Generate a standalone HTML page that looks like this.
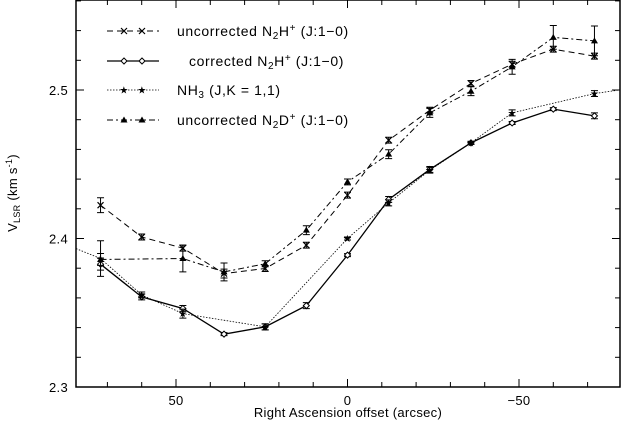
<!DOCTYPE html>
<html><head><meta charset="utf-8"><style>
body{margin:0;background:#fff}
svg text{font-family:"Liberation Sans",sans-serif;font-size:13px;fill:#000;letter-spacing:0.3px}
</style></head><body>
<svg id="c" width="621" height="421" xmlns="http://www.w3.org/2000/svg"></svg>
<script>
const xs=[72,60,48,36,24,12,0,-12,-24,-36,-48,-60,-72];
const uncN2H=[2.4224,2.401,2.3935,2.3764,2.3798,2.3955,2.4292,2.4662,2.4864,2.5044,2.5174,2.5275,2.5228];
const uncN2HErr=[0.005,0.002,0.002,0.003,0.002,0.002,0.002,0.002,0.002,0.002,0.002,0.002,0.002];
const corN2H=[2.3827,2.3607,2.3529,2.3356,2.3405,2.3548,2.3888,2.4263,2.4465,2.4644,2.4778,2.4871,2.4826];
const corErr=[0.004,0.002,0.002,0.001,0.002,0.002,0.001,0.002,0.002,0.001,0.001,0.001,0.002];
const nh3X=[84,72,60,48,24,0,-12,-24,-36,-48,-72,-84];
const nh3=[2.3978,2.3865,2.362,2.3494,2.3405,2.400,2.424,2.446,2.4644,2.4846,2.4976,2.5016];
const nh3Err=[0,0.012,0.002,0.003,0.002,0.001,0.002,0.002,0.001,0.002,0.002,0];
const n2dX=[72,48,36,24,12,0,-12,-24,-36,-48,-60,-72];
const n2d=[2.3859,2.3865,2.3775,2.383,2.4056,2.4381,2.4568,2.4846,2.4992,2.5156,2.5354,2.5331];
const n2dErr=[0.004,0.009,0.006,0.002,0.003,0.002,0.003,0.003,0.003,0.005,0.008,0.01];
const yTicks=[2.3,2.4,2.5];
const xTicks=[50,0,-50];

const L=76,R=620,T=0,B=387;
const X=v=>176+(50-v)*3.43;
const Y=v=>387-(v-2.3)*1485;
const S=document.getElementById('c');
const NS='http://www.w3.org/2000/svg';
function mk(tag,attrs,parent){const e=document.createElementNS(NS,tag);for(const k in attrs)e.setAttribute(k,attrs[k]);(parent||S).appendChild(e);return e;}
const defs=mk('defs',{});const cp=mk('clipPath',{id:'clip'},defs);mk('rect',{x:L,y:T,width:R-L,height:B-T},cp);
const frame=mk('rect',{x:L,y:T,width:R-L,height:B-T,fill:'none',stroke:'#000','stroke-width':1.5});

for(let v=2.3;v<=2.561;v+=0.02){const y=Y(v);const maj=Math.abs((v*10)-Math.round(v*10))<0.01;const l=maj?8:5;
 mk('line',{x1:L,x2:L+l,y1:y,y2:y,stroke:'#000'});mk('line',{x1:R-l,x2:R,y1:y,y2:y,stroke:'#000'});}
for(let v=-70;v<=70;v+=10){const x=X(v);const l=(v%50===0)?8:5;
 mk('line',{x1:x,x2:x,y1:B,y2:B-l,stroke:'#000'});mk('line',{x1:x,x2:x,y1:T,y2:T+l,stroke:'#000'});}
yTicks.forEach(v=>{const t=mk('text',{x:L-8,y:Y(v)+5,'text-anchor':'end'});t.textContent=v.toFixed(1);
 });
xTicks.forEach(v=>{const t=mk('text',{x:X(v),y:B+18,'text-anchor':'middle'});t.textContent=(v<0?'\u2212'+(-v):v);
 });
const xl=mk('text',{x:348,y:417,'text-anchor':'middle'});xl.textContent='Right Ascension offset (arcsec)';

const yl=mk('text',{transform:'translate(17,193) rotate(-90)','text-anchor':'middle'});
yl.innerHTML='V<tspan font-size="9" dy="3">LSR</tspan><tspan dy="-3"> (km s</tspan><tspan font-size="9" dy="-5">-1</tspan><tspan dy="5">)</tspan>';


function marker(g,type,x,y){
 if(type==='x'){mk('path',{d:`M${x-3},${y-3}L${x+3},${y+3}M${x-3},${y+3}L${x+3},${y-3}`,stroke:'#000','stroke-width':1.2},g);}
 else if(type==='d'){mk('path',{d:`M${x},${y-3}L${x+3},${y}L${x},${y+3}L${x-3},${y}Z`,fill:'#fff',stroke:'#000','stroke-width':1},g);}
 else if(type==='s'){mk('text',{x:x,y:y+3.5,'text-anchor':'middle',style:'font-size:10px'},g).textContent='\u2605';}
 else {mk('path',{d:`M${x},${y-3.5}L${x+3.5},${y+2.5}L${x-3.5},${y+2.5}Z`,fill:'#000'},g);}
}
function series(name,xv,yv,ev,dash,type,w){
 const g=mk('g',{'clip-path':'url(#clip)'});
 
 const pts=xv.map((x,i)=>X(x)+','+Y(yv[i])).join(' ');
 mk('polyline',{points:pts,fill:'none',stroke:'#000','stroke-width':w,'stroke-dasharray':dash},g);
 xv.forEach((x,i)=>{const px=X(x),py=Y(yv[i]);
  if(ev[i]>0){const t=Y(yv[i]+ev[i]),b=Y(yv[i]-ev[i]);
   mk('path',{d:`M${px},${t}L${px},${b}M${px-3.5},${t}L${px+3.5},${t}M${px-3.5},${b}L${px+3.5},${b}`,stroke:'#000','stroke-width':1},g);}
  marker(g,type,px,py);});
}
series('series-uncorrected-n2h',xs,uncN2H,uncN2HErr,'6,4','x',1);
series('series-corrected-n2h',xs,corN2H,corErr,'','d',1.3);
series('series-nh3',nh3X,nh3,nh3Err,'1.5,1.5','s',0.8);
series('series-n2d',n2dX,n2d,n2dErr,'6,3,2,3','t',1);

const leg=[['uncorrected N<tspan font-size="10" dy="3">2</tspan><tspan dy="-3">H</tspan><tspan font-size="10" dy="-5">+</tspan><tspan dy="5"> (J:1\u22120)</tspan>','6,4','x',177,1],
['corrected N<tspan font-size="10" dy="3">2</tspan><tspan dy="-3">H</tspan><tspan font-size="10" dy="-5">+</tspan><tspan dy="5"> (J:1\u22120)</tspan>','','d',189,1.3],
['NH<tspan font-size="10" dy="3">3</tspan><tspan dy="-3"> (J,K = 1,1)</tspan>','1.5,1.5','s',177,0.8],
['uncorrected N<tspan font-size="10" dy="3">2</tspan><tspan dy="-3">D</tspan><tspan font-size="10" dy="-5">+</tspan><tspan dy="5"> (J:1\u22120)</tspan>','6,3,2,3','t',177,1]];
const lgY=[31,61,90,120];
leg.forEach((l,i)=>{const g=mk('g',{});
 
 const y=lgY[i];mk('line',{x1:107,x2:159,y1:y,y2:y,stroke:'#000','stroke-width':l[4],'stroke-dasharray':l[1]},g);
 marker(g,l[2],124,y);marker(g,l[2],142,y);
 const t=mk('text',{x:l[3],y:y+5,style:'font-size:14px;letter-spacing:0.6px'},g);t.innerHTML=l[0];});
</script>
</body></html>
